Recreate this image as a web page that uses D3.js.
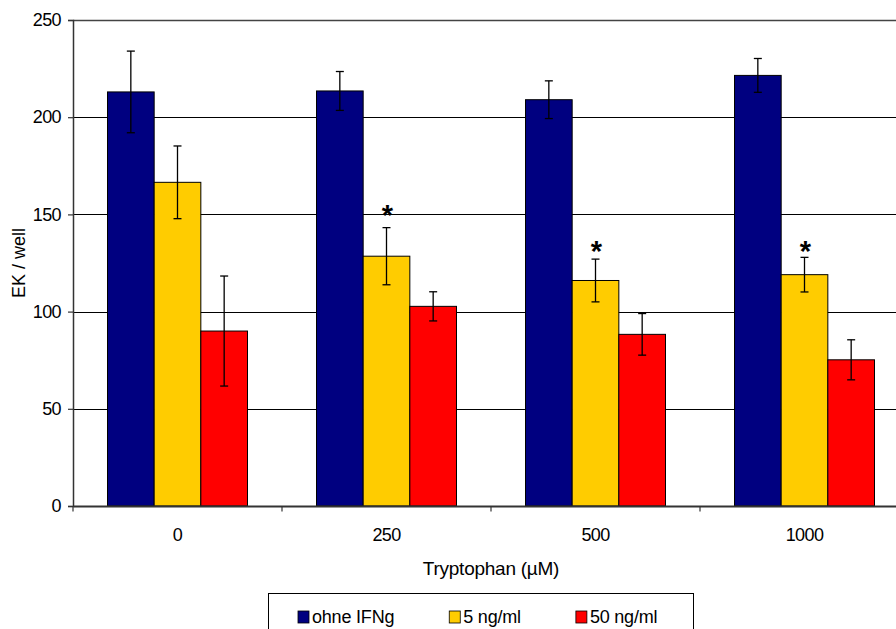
<!DOCTYPE html>
<html>
<head>
<meta charset="utf-8">
<script src="https://cdn.jsdelivr.net/npm/d3@7"></script>
<style>
  html, body { margin: 0; padding: 0; background: #fff; }
  svg { display: block; font-family: "Liberation Sans", Arial, sans-serif; }
</style>
</head>
<body>
<svg id="chart" width="896" height="629"></svg>
<script>
// ---- data ----
const categories = ["0", "250", "500", "1000"];
const seriesNames = ["ohne IFNg", "5 ng/ml", "50 ng/ml"];
const seriesColors = ["#000080", "#FFCC00", "#FF0000"];
const ohneIFNg = [213, 213.5, 209, 221.5];
const ng5 = [166.5, 128.5, 116, 119];
const ng50 = [90, 102.7, 88.3, 75.2];
const errOhne = [21, 10, 9.7, 8.7];
const err5 = [18.7, 14.7, 11, 8.9];
const err50 = [28.3, 7.5, 10.7, 10.3];
const starPos = [null, 153, 134.3, 134.3]; // significance marks above 5 ng/ml bars
const yTicks = [0, 50, 100, 150, 200, 250];
const xTitle = "Tryptophan (\u00B5M)";
const yTitle = "EK / well";

const values = [ohneIFNg, ng5, ng50];
const errors = [errOhne, err5, err50];

// ---- layout ----
(function () {
const svg = d3.select("#chart");
const pL = 73, pT = 20, pB = 506, pR = 909;

const x = d3.scaleBand().domain(categories).range([pL, pR]).paddingInner(0).paddingOuter(0);
const y = d3.scaleLinear().domain([0, 250]).range([pB, pT]);
const catW = x.bandwidth();
const groupW = catW * 140 / 209;
const xs = d3.scaleBand().domain(d3.range(seriesNames.length))
  .range([(catW - groupW) / 2, (catW + groupW) / 2]).padding(0);

// gridlines
svg.append("g").selectAll("line").data(yTicks.filter(t => t > 0 && t < 250)).join("line")
  .attr("x1", pL).attr("x2", pR)
  .attr("y1", d => Math.round(y(d)) + 0.5).attr("y2", d => Math.round(y(d)) + 0.5)
  .attr("stroke", "#000").attr("stroke-width", 1);

// frame (top line at 250)
svg.append("line").attr("x1", pL).attr("x2", pR).attr("y1", pT + 0.5).attr("y2", pT + 0.5)
  .attr("stroke", "#444").attr("stroke-width", 1.5);

// bars
const rows = [];
categories.forEach((c, i) => seriesNames.forEach((s, j) => rows.push({ c, i, j, v: values[j][i], e: errors[j][i] })));

svg.append("g").selectAll("rect").data(rows).join("rect")
  .attr("x", d => x(d.c) + xs(d.j))
  .attr("y", d => y(d.v))
  .attr("width", xs.bandwidth())
  .attr("height", d => y(0) - y(d.v))
  .attr("fill", d => seriesColors[d.j])
  .attr("stroke", "#000").attr("stroke-width", 1);

// error bars
const eg = svg.append("g").attr("stroke", "#000").attr("stroke-width", 1.3);
rows.forEach(d => {
  const cx = x(d.c) + xs(d.j) + xs.bandwidth() / 2;
  eg.append("line").attr("x1", cx).attr("x2", cx).attr("y1", y(d.v + d.e)).attr("y2", y(d.v - d.e));
  eg.append("line").attr("x1", cx - 4).attr("x2", cx + 4).attr("y1", y(d.v + d.e)).attr("y2", y(d.v + d.e));
  eg.append("line").attr("x1", cx - 4).attr("x2", cx + 4).attr("y1", y(d.v - d.e)).attr("y2", y(d.v - d.e));
});

// stars
const starFs = 29;
svg.append("g").selectAll("text").data(categories.map((c, i) => ({ c, p: starPos[i] })).filter(d => d.p != null))
  .join("text")
  .attr("x", d => x(d.c) + xs(1) + xs.bandwidth() / 2 + 1)
  .attr("y", d => y(d.p) + 0.57 * starFs)
  .attr("text-anchor", "middle")
  .attr("font-size", starFs).attr("font-weight", "bold")
  .text("*");

// y axis
const yAxis = svg.append("g").attr("transform", `translate(${pL},0)`)
  .call(d3.axisLeft(y).tickValues(yTicks).tickSize(5).tickPadding(7));
yAxis.select(".domain").attr("stroke", "#333").attr("stroke-width", 1.5);
yAxis.selectAll(".tick line").attr("stroke", "#333").attr("stroke-width", 1.2);
yAxis.selectAll(".tick text").attr("font-size", 18).attr("fill", "#000")
  .attr("font-family", "Liberation Sans, Arial, sans-serif").attr("letter-spacing", -0.6);

// x axis
const xAxis = svg.append("g").attr("transform", `translate(0,${pB})`)
  .call(d3.axisBottom(x).tickSize(0).tickPadding(22));
xAxis.select(".domain").attr("stroke", "#333").attr("stroke-width", 1.8);
xAxis.selectAll(".tick text").attr("font-size", 18).attr("fill", "#000")
  .attr("font-family", "Liberation Sans, Arial, sans-serif").attr("letter-spacing", -0.6);
// tick marks at category boundaries
const bounds = categories.map(c => x(c)).concat([pR]);
svg.append("g").selectAll("line").data(bounds).join("line")
  .attr("x1", d => d).attr("x2", d => d).attr("y1", pB).attr("y2", pB + 5.5)
  .attr("stroke", "#333").attr("stroke-width", 1.2);

// titles
svg.append("text").attr("x", (pL + pR) / 2).attr("y", 575).attr("text-anchor", "middle")
  .attr("font-size", 19).attr("letter-spacing", -0.25).text(xTitle);
svg.append("text").attr("transform", `translate(25,${(pT + pB) / 2}) rotate(-90)`)
  .attr("text-anchor", "middle").attr("font-size", 18).text(yTitle);

// legend
const lg = svg.append("g");
lg.append("rect").attr("x", 268.5).attr("y", 593.5).attr("width", 425).attr("height", 60)
  .attr("fill", "#fff").attr("stroke", "#000").attr("stroke-width", 1);
let lx = 298;
seriesNames.forEach((s, j) => {
  lg.append("rect").attr("x", lx).attr("y", 611).attr("width", 11).attr("height", 12)
    .attr("fill", seriesColors[j]).attr("stroke", "#000").attr("stroke-width", 0.8);
  const t = lg.append("text").attr("x", lx + 14).attr("y", 623).attr("font-size", 18)
    .attr("letter-spacing", -0.2).text(s);
  const w = t.node().getComputedTextLength();
  lx = lx + 14 + w + 55;
});
})();
</script>
</body>
</html>
